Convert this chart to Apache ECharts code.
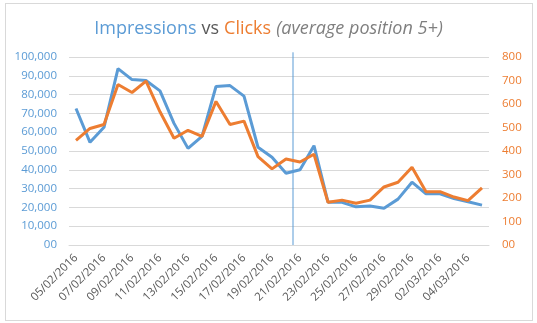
<!DOCTYPE html>
<html>
<head>
<meta charset="utf-8">
<script src="https://cdn.jsdelivr.net/npm/echarts@6/dist/echarts.min.js"></script>
<style>
  html, body { margin: 0; padding: 0; background: #fff; }
  #frame { position: absolute; left: 5px; top: 3px; width: 526px; height: 316px; border: 1px solid #d9d9d9; }
  #chart { position: absolute; left: 0; top: 0; width: 537px; height: 323px; }
</style>
</head>
<body>
<div id="frame"></div>
<div id="chart"></div>
<script>
// Daily figures, 05/02/2016 – 05/03/2016
const dates = [
  '05/02/2016','06/02/2016','07/02/2016','08/02/2016','09/02/2016','10/02/2016',
  '11/02/2016','12/02/2016','13/02/2016','14/02/2016','15/02/2016','16/02/2016',
  '17/02/2016','18/02/2016','19/02/2016','20/02/2016','21/02/2016','22/02/2016',
  '23/02/2016','24/02/2016','25/02/2016','26/02/2016','27/02/2016','28/02/2016',
  '29/02/2016','01/03/2016','02/03/2016','03/03/2016','04/03/2016','05/03/2016'
];
const impressions = [
  72600, 54600, 62600, 93800, 88000, 87500, 82000, 64700, 51400, 57800,
  84300, 84800, 79200, 52000, 46700, 38200, 40000, 52800, 22800, 22700,
  20300, 20800, 19600, 24400, 33400, 27200, 27200, 24700, 23000, 21200
];
const clicks = [
  445, 496, 513, 683, 649, 697, 567, 454, 488, 462,
  611, 513, 527, 376, 324, 366, 353, 386, 182, 191,
  178, 191, 247, 267, 331, 227, 227, 204, 189, 243
];
// Day at which the vertical divider is drawn (left edge of its slot)
const dividerDate = '21/02/2016';

const BLUE = '#5B9BD5', ORANGE = '#ED7D31', GREY = '#595959';
const FONT = 'Open Sans';

function fmtLeft(v) {
  if (v === 0) return '00';
  return String(v).replace(/\B(?=(\d{3})+(?!\d))/g, ',');
}
function fmtRight(v) { return v === 0 ? '00' : String(v); }

const titleStyle = { fontSize: 18, fontFamily: FONT, fontWeight: 'normal' };

const chart = echarts.init(document.getElementById('chart'), null, { renderer: 'canvas' });
chart.setOption({
  animation: false,
  backgroundColor: 'transparent',
  title: {
    left: 'center',
    top: 15,
    text: '{a|Impressions} {b|vs} {c|Clicks} {d|(average position 5+)}',
    textStyle: {
      fontWeight: 'normal',
      rich: {
        a: Object.assign({ color: BLUE }, titleStyle),
        b: Object.assign({ color: GREY }, titleStyle),
        c: Object.assign({ color: ORANGE }, titleStyle),
        d: Object.assign({ color: '#7f7f7f', fontStyle: 'italic' }, titleStyle)
      }
    }
  },
  grid: { left: 69, right: 48, top: 57, bottom: 78 },
  xAxis: {
    type: 'category',
    data: dates,
    boundaryGap: true,
    axisLine: { lineStyle: { color: '#d9d9d9' } },
    axisTick: { show: false },
    axisLabel: {
      interval: 1,
      rotate: 45,
      color: GREY,
      fontSize: 11.5,
      fontFamily: FONT,
      margin: 11
    }
  },
  yAxis: [
    {
      type: 'value', min: 0, max: 100000, interval: 10000,
      axisLine: { show: false }, axisTick: { show: false },
      splitLine: { lineStyle: { color: '#d9d9d9' } },
      axisLabel: { color: BLUE, fontSize: 11.5, fontFamily: FONT, margin: 12, formatter: fmtLeft }
    },
    {
      type: 'value', min: 0, max: 800, interval: 100, position: 'right',
      axisLine: { show: false }, axisTick: { show: false },
      splitLine: { show: false },
      axisLabel: { color: ORANGE, fontSize: 11.5, fontFamily: FONT, margin: 13, formatter: fmtRight }
    }
  ],
  series: [
    {
      name: 'Impressions', type: 'line', yAxisIndex: 0, data: impressions,
      symbol: 'none', lineStyle: { color: BLUE, width: 3 }, itemStyle: { color: BLUE }
    },
    {
      name: 'Clicks', type: 'line', yAxisIndex: 1, data: clicks,
      symbol: 'none', lineStyle: { color: ORANGE, width: 3 }, itemStyle: { color: ORANGE }
    },
    {
      name: 'Divider', type: 'custom', yAxisIndex: 0, clip: false, silent: true,
      data: [[dividerDate]],
      encode: { x: 0 },
      renderItem: function (params, api) {
        const half = api.size([1, 0])[0] / 2;
        const bottom = api.coord([api.value(0), 0]);
        const top = api.coord([api.value(0), 102500]);
        return {
          type: 'line',
          shape: { x1: bottom[0] - half, y1: bottom[1], x2: top[0] - half, y2: top[1] },
          style: { stroke: BLUE, lineWidth: 1 }
        };
      }
    }
  ]
});
</script>
</body>
</html>
